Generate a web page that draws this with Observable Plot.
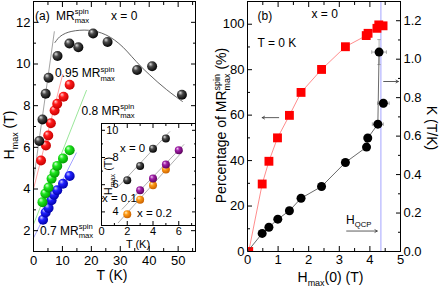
<!DOCTYPE html>
<html><head><meta charset="utf-8">
<script src="https://cdn.jsdelivr.net/npm/d3@7"></script>
<script src="https://cdn.jsdelivr.net/npm/@observablehq/plot@0.6"></script>
<style>
body{margin:0;background:#fff;}
#wrap{position:relative;width:443px;height:289px;overflow:hidden;background:#fff;}
#wrap svg{position:absolute;overflow:visible;}
</style></head><body><div id="wrap"></div>
<script>
const FONT = "'Liberation Sans', Arial, Helvetica, sans-serif";

// ---------- Panel (a): Hmax vs T ----------
const tBlack = [2.0, 3.1, 4.2, 5.2, 8.3, 12.4, 15.5, 20.6, 25.6, 35.8, 41.0, 51.3];
const hBlack = [6.3, 7.34, 8.57, 9.34, 10.38, 10.98, 10.8, 11.46, 11.06, 9.71, 9.89, 8.52];
const tRed = [2.6, 4.3, 5.1, 6.0, 7.3, 8.2, 10.4, 12.5];
const hRed = [5.37, 6.09, 6.57, 7.16, 7.77, 8.09, 8.43, 9.0];
const tGreen = [3.1, 4.1, 5.2, 6.25, 7.3, 8.2, 10.2, 12.5];
const hGreen = [3.37, 3.78, 4.07, 4.49, 4.78, 5.11, 5.47, 5.86];
const tBlue = [3.3, 4.2, 5.2, 6.25, 7.1, 8.2, 10.2, 12.5];
const hBlue = [2.53, 2.87, 3.09, 3.46, 3.73, 3.94, 4.25, 4.62];
// smooth curve through the full-MR points
const tCurve = [7.4, 9, 11, 13, 16, 19, 22, 25, 28, 31, 34, 37, 40, 43, 46, 49, 51.5];
const hCurve = [11.03, 11.3, 11.47, 11.56, 11.62, 11.62, 11.55, 11.4, 11.15, 10.8, 10.35, 9.9, 9.5, 9.12, 8.77, 8.45, 8.2];
// low-T linear fits (end points)
const fitBlackT = [0, 7.2],  fitBlackH = [4.41, 11.55];
const fitRedT = [0, 10.1],   fitRedH = [4.0, 9.5];
const fitGreenT = [0, 18.3], fitGreenH = [2.3, 8.73];
const fitBlueT = [0, 14.8],  fitBlueH = [1.65, 5.73];
const aXMajor = [0, 10, 20, 30, 40, 50], aXMinor = [5, 15, 25, 35, 45, 55];
const aYMajor = [2, 4, 6, 8, 10, 12], aYMinor = [3, 5, 7, 9, 11];

// ---------- Inset ----------
const iT0 = [2, 3, 4, 5], iH0 = [6.32, 7.37, 8.65, 9.39];
const iT1 = [3, 4, 5, 6], iH1 = [5.59, 6.45, 7.48, 8.53];
const iT2 = [2, 3, 4, 5], iH2 = [3.82, 4.9, 5.96, 7.11];
const iFit0T = [1.35, 5.3], iFit0H = [5.9, 9.9];
const iFit1T = [1.6, 6.4],  iFit1H = [4.2, 8.95];
const iFit2T = [1.3, 6.3],  iFit2H = [3.2, 8.45];
const iXMajor = [0, 2, 4, 6], iXMinor = [1, 3, 5, 7];
const iYMajor = [4, 6, 8, 10], iYMinor = [5, 7, 9];

// ---------- Panel (b) ----------
const hPct = [0.04, 0.48, 0.70, 0.98, 1.37, 1.75, 2.42, 3.2, 3.88, 3.94, 4.23, 4.29, 4.43];
const pct  = [0, 29.7, 39.7, 50, 59.9, 70, 80.1, 90.1, 95, 96, 98.2, 99.7, 99.3];
const hK   = [0.48, 0.70, 0.99, 1.37, 1.75, 2.42, 3.2, 3.89, 3.93, 4.26, 4.44, 4.3];
const kVal = [0.094, 0.126, 0.168, 0.212, 0.277, 0.338, 0.463, 0.543, 0.59, 0.662, 0.771, 1.037];
const kErrH = [0, 0, 0, 0, 0, 0, 0, 0.1, 0, 0.18, 0.19, 0.24];
const kErrK = [0, 0, 0, 0, 0, 0, 0, 0, 0, 0.015, 0.02, 0.065];
const kLineH = [0, 0.48, 0.70, 0.99, 1.37, 1.75, 2.42, 3.2, 3.89, 3.93, 4.26, 4.3];
const kLineK = [0, 0.094, 0.126, 0.168, 0.212, 0.277, 0.338, 0.463, 0.543, 0.59, 0.662, 1.037];
const hQCP = 4.36;
const arrowsPct = [{x1: 1.02, x2: 0.48, y: 58.9}, {x1: 3.24, x2: 4.24, y: 9.0}];
const arrowsK = [{x1: 4.45, x2: 4.93, y: 0.884}];
const bXMajor = [0, 1, 2, 3, 4, 5], bXMinor = [0.5, 1.5, 2.5, 3.5, 4.5];
const bYMajor = [0, 20, 40, 60, 80, 100], bYMinor = [10, 30, 50, 70, 90];
const kYMajor = [0, 0.2, 0.4, 0.6, 0.8, 1.0, 1.2], kYMinor = [0.1, 0.3, 0.5, 0.7, 0.9, 1.1];

// ---------- helpers ----------
const pts = (xs, ys) => xs.map((x, i) => ({x, y: ys[i]}));
const style = {fontFamily: FONT, fontSize: "13px", background: "transparent", color: "black", overflow: "visible"};
function ticks(xMaj, xMin, yMaj, yMin, xSides, ySides, big = 5, small = 3) {
  const m = [];
  for (const a of xSides) {
    m.push(Plot.axisX(xMaj, {anchor: a, tickSize: -big, fill: "none", label: null}));
    m.push(Plot.axisX(xMin, {anchor: a, tickSize: -small, fill: "none", label: null}));
  }
  for (const a of ySides) {
    m.push(Plot.axisY(yMaj, {anchor: a, tickSize: -big, fill: "none", label: null}));
    m.push(Plot.axisY(yMin, {anchor: a, tickSize: -small, fill: "none", label: null}));
  }
  return m;
}
const wrap = d3.select("#wrap");

// gradients for shaded spheres
const defs = wrap.append("svg").attr("width", 0).attr("height", 0).append("defs");
const grads = {
  black: ["#e0e0e0", "#4a4a4a", "#000000"],
  red: ["#ffd0d0", "#ff1a1a", "#c40000"],
  green: ["#d8ffd8", "#1ee61e", "#009a00"],
  blue: ["#d0d0ff", "#2020ff", "#0000a8"],
  purple: ["#f0c8f0", "#a020a8", "#5c005c"],
  orange: ["#fff0c8", "#ff9a14", "#c86000"]
};
for (const [k, c] of Object.entries(grads)) {
  const g = defs.append("radialGradient").attr("id", "g-" + k)
    .attr("cx", "42%").attr("cy", "40%").attr("r", "62%").attr("fx", "33%").attr("fy", "28%");
  g.append("stop").attr("offset", "0%").attr("stop-color", c[0]);
  g.append("stop").attr("offset", "38%").attr("stop-color", c[1]);
  g.append("stop").attr("offset", "100%").attr("stop-color", c[2]);
}

// ---------- Panel (a) ----------
const plotA = Plot.plot({
  width: 215, height: 289, marginLeft: 33, marginRight: 20, marginTop: 1, marginBottom: 38,
  style,
  x: {domain: [0, 56], axis: null}, y: {domain: [1, 13], axis: null},
  marks: [
    Plot.line(pts(fitBlackT, fitBlackH), {x: "x", y: "y", stroke: "#8c8c8c", strokeWidth: 0.8}),
    Plot.line(pts(fitRedT, fitRedH), {x: "x", y: "y", stroke: "#ff8c8c", strokeWidth: 0.8}),
    Plot.line(pts(fitGreenT, fitGreenH), {x: "x", y: "y", stroke: "#80e080", strokeWidth: 0.8}),
    Plot.line(pts(fitBlueT, fitBlueH), {x: "x", y: "y", stroke: "#8c8cff", strokeWidth: 0.8}),
    Plot.line(pts(tCurve, hCurve), {x: "x", y: "y", stroke: "#555", strokeWidth: 0.9, curve: "catmull-rom"}),
    Plot.dot(pts(tBlue, hBlue), {x: "x", y: "y", r: 5, fill: "url(#g-blue)"}),
    Plot.dot(pts(tGreen, hGreen), {x: "x", y: "y", r: 5, fill: "url(#g-green)"}),
    Plot.dot(pts(tRed, hRed), {x: "x", y: "y", r: 5, fill: "url(#g-red)"}),
    Plot.dot(pts(tBlack, hBlack), {x: "x", y: "y", r: 5, fill: "url(#g-black)"}),
    Plot.frame({stroke: "black"}),
    ...ticks(aXMajor, aXMinor, aYMajor, aYMinor, ["bottom", "top"], ["left", "right"]),
    Plot.axisX(aXMajor, {anchor: "bottom", tickSize: 0, tickPadding: 4, label: null}),
    Plot.axisY(aYMajor, {anchor: "left", tickSize: 0, tickPadding: 3, label: null})
  ]
});
wrap.append(() => plotA).style("left", "0px").style("top", "0px");

// ---------- Inset ----------
const plotI = Plot.plot({
  width: 108, height: 134, marginLeft: 13, marginRight: 1, marginTop: 5, marginBottom: 27,
  style: {...style, fontSize: "11px"},
  x: {domain: [0, 7.3], axis: null}, y: {domain: [3, 10.5], axis: null},
  marks: [
    Plot.frame({fill: "white", stroke: "none"}),
    Plot.line(pts(iFit0T, iFit0H), {x: "x", y: "y", stroke: "#8c8c8c", strokeWidth: 0.7}),
    Plot.line(pts(iFit1T, iFit1H), {x: "x", y: "y", stroke: "#8c8c8c", strokeWidth: 0.7}),
    Plot.line(pts(iFit2T, iFit2H), {x: "x", y: "y", stroke: "#8c8c8c", strokeWidth: 0.7}),
    Plot.dot(pts(iT0, iH0), {x: "x", y: "y", r: 4, fill: "url(#g-black)"}),
    Plot.dot(pts(iT2, iH2), {x: "x", y: "y", r: 4, fill: "url(#g-orange)"}),
    Plot.dot(pts(iT1, iH1), {x: "x", y: "y", r: 4, fill: "url(#g-purple)"}),
    Plot.frame({stroke: "black"}),
    ...ticks(iXMajor, iXMinor, iYMajor, iYMinor, ["bottom", "top"], ["left", "right"], 4, 2),
    Plot.axisX(iXMajor, {anchor: "bottom", tickSize: 0, tickPadding: 2, label: null}),
    Plot.text(iYMajor, {frameAnchor: "left", y: d => d, text: d => String(d), dx: 17, textAnchor: "end", fontSize: 11})
  ]
});
wrap.append(() => plotI).style("left", "88px").style("top", "118px");

// ---------- Panel (b), left scale ----------
const plotB = Plot.plot({
  width: 228, height: 289, marginLeft: 32, marginRight: 43, marginTop: 1, marginBottom: 38,
  style,
  x: {domain: [0, 5], axis: null}, y: {domain: [0, 110], axis: null},
  marks: [
    Plot.ruleX([hQCP], {stroke: "#a4a4ff", strokeWidth: 1}),
    Plot.line(pts(hPct, pct), {x: "x", y: "y", stroke: "#ff7070", strokeWidth: 0.8}),
    Plot.dot(pts(hPct, pct), {x: "x", y: "y", symbol: "square", r: 5, fill: "#ff0000", clip: true}),
    Plot.arrow(arrowsPct, {x1: "x1", x2: "x2", y1: "y", y2: "y", stroke: "#333", strokeWidth: 0.8, headLength: 5}),
    Plot.frame({stroke: "black"}),
    ...ticks(bXMajor, bXMinor, bYMajor, bYMinor, ["bottom", "top"], ["left"]),
    Plot.axisX(bXMajor, {anchor: "bottom", tickSize: 0, tickPadding: 3, label: null}),
    Plot.axisY(bYMajor, {anchor: "left", tickSize: 0, tickPadding: 3, label: null})
  ]
});
wrap.append(() => plotB).style("left", "215px").style("top", "0px");

// ---------- Panel (b), right scale K ----------
const kPts = hK.map((h, i) => ({h, k: kVal[i], eh: kErrH[i], ek: kErrK[i]}));
const capV = {draw(ctx, size) { const h = Math.sqrt(size) / 2; ctx.moveTo(0, -h); ctx.lineTo(0, h); }};
const capH = {draw(ctx, size) { const h = Math.sqrt(size) / 2; ctx.moveTo(-h, 0); ctx.lineTo(h, 0); }};
const errX = kPts.filter(d => d.eh > 0), errY = kPts.filter(d => d.ek > 0);
const plotK = Plot.plot({
  width: 228, height: 289, marginLeft: 32, marginRight: 43, marginTop: 1, marginBottom: 38,
  style,
  x: {domain: [0, 5], axis: null}, y: {domain: [0, 1.3], axis: null},
  marks: [
    Plot.link(errX, {x1: d => d.h - d.eh, x2: d => d.h + d.eh, y1: "k", y2: "k", stroke: "#999", strokeWidth: 0.8}),
    Plot.dot(errX, {x: d => d.h - d.eh, y: "k", symbol: capV, r: 2, stroke: "#999", strokeWidth: 0.8}),
    Plot.dot(errX, {x: d => d.h + d.eh, y: "k", symbol: capV, r: 2, stroke: "#999", strokeWidth: 0.8}),
    Plot.link(errY, {x1: "h", x2: "h", y1: d => d.k - d.ek, y2: d => d.k + d.ek, stroke: "#999", strokeWidth: 0.8}),
    Plot.dot(errY, {x: "h", y: d => d.k - d.ek, symbol: capH, r: 2, stroke: "#999", strokeWidth: 0.8}),
    Plot.dot(errY, {x: "h", y: d => d.k + d.ek, symbol: capH, r: 2, stroke: "#999", strokeWidth: 0.8}),
    Plot.line(pts(kLineH, kLineK), {x: "x", y: "y", stroke: "#444", strokeWidth: 0.8}),
    Plot.dot(kPts, {x: "h", y: "k", r: 4.5, fill: "black"}),
    Plot.arrow(arrowsK, {x1: "x1", x2: "x2", y1: "y", y2: "y", stroke: "#333", strokeWidth: 0.8, headLength: 5}),
    ...ticks(bXMajor, bXMinor, kYMajor, kYMinor, [], ["right"]),
    Plot.axisY(kYMajor, {anchor: "right", tickSize: 0, tickPadding: 3, label: null, tickFormat: d3.format(".1f")})
  ]
});
wrap.append(() => plotK).style("left", "215px").style("top", "0px");

// ---------- text overlay (rich text with sub/superscripts) ----------
const ov = wrap.append("svg").attr("width", 443).attr("height", 289).style("left", "0px").style("top", "0px")
  .attr("font-family", FONT).attr("fill", "black");
function rich(parts, {x, y, size = 12, anchor = "start", rotate = 0}) {
  const g = ov.append("g");
  const inner = g.append("g");
  let cx = 0;
  for (const p of parts) {
    if (typeof p === "string") {
      const el = inner.append("text").attr("x", cx).attr("y", 0).attr("font-size", size)
        .style("white-space", "pre").text(p);
      cx += el.node().getComputedTextLength();
    } else {
      const ss = size * 0.64;
      let w = 0;
      if (p.sup != null) {
        const el = inner.append("text").attr("x", cx).attr("y", -size * 0.42).attr("font-size", ss).text(p.sup);
        w = Math.max(w, el.node().getComputedTextLength());
      }
      if (p.sub != null) {
        const el = inner.append("text").attr("x", cx).attr("y", size * 0.3).attr("font-size", ss).text(p.sub);
        w = Math.max(w, el.node().getComputedTextLength());
      }
      cx += w;
    }
  }
  const off = anchor === "middle" ? cx / 2 : anchor === "end" ? cx : 0;
  g.attr("transform", `translate(${x},${y}) rotate(${rotate})`);
  inner.attr("transform", `translate(${-off},0)`);
}
const NB = "\u00a0";
const MRs = ["MR", {sup: "spin", sub: "max"}];
// panel (a)
rich(["(a)"], {x: 35, y: 19.5, size: 12});
rich(MRs, {x: 56, y: 19.5, size: 12});
rich(["x = 0"], {x: 111, y: 19.5, size: 12});
rich(["0.95" + NB, ...MRs], {x: 55, y: 77, size: 12});
rich(["0.8" + NB, ...MRs], {x: 81.5, y: 114.5, size: 12});
rich(["0.7" + NB, ...MRs], {x: 40, y: 234.5, size: 12});
rich(["H", {sub: "max"}, NB + "(T)"], {x: 14, y: 135, size: 14, anchor: "middle", rotate: -90});
rich(["T (K)"], {x: 112, y: 280, size: 14, anchor: "middle"});
// inset
rich(["x = 0"], {x: 120, y: 152, size: 11.5});
rich(["x = 0.1"], {x: 102, y: 202, size: 11.5});
rich(["x = 0.2"], {x: 137, y: 216.5, size: 11.5});
rich(["H", {sub: "max"}, NB + "(T)"], {x: 112, y: 176, size: 11, anchor: "middle", rotate: -90});
rich(["T (K)"], {x: 138, y: 248, size: 11, anchor: "middle"});
// panel (b)
rich(["(b)"], {x: 257.5, y: 19.5, size: 12});
rich(["x = 0"], {x: 311.5, y: 18, size: 12});
rich(["T = 0 K"], {x: 257.5, y: 47, size: 12});
rich(["H", {sub: "QCP"}], {x: 346, y: 223.5, size: 12});
rich(["Percentage of" + NB, ...MRs, NB + "(%)"], {x: 225.5, y: 125.5, size: 14, anchor: "middle", rotate: -90});
rich(["K (T/K)"], {x: 427, y: 128, size: 14, anchor: "middle", rotate: 90});
rich(["H", {sub: "max"}, "(0) (T)"], {x: 297.5, y: 282, size: 14});
</script>
</body></html>
